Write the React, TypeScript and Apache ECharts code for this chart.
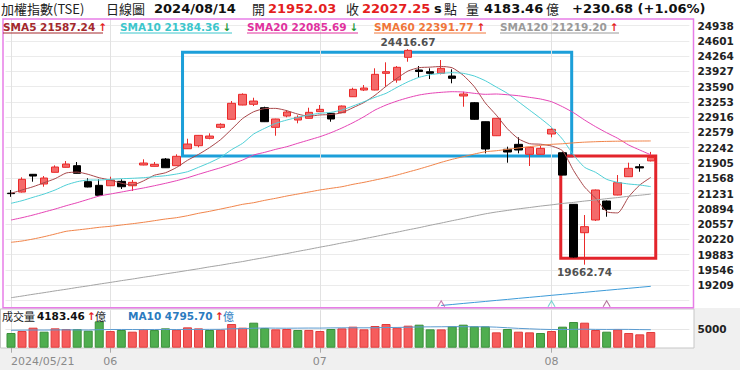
import React, { useEffect, useRef } from 'react';
import * as echarts from 'echarts';

const dates = [
  '2024/05/21', '2024/05/22', '2024/05/23', '2024/05/24', '2024/05/27', '2024/05/28', '2024/05/29', '2024/05/30', '2024/05/31',
  '2024/06/03', '2024/06/04', '2024/06/05', '2024/06/06', '2024/06/07', '2024/06/11', '2024/06/12', '2024/06/13', '2024/06/14',
  '2024/06/17', '2024/06/18', '2024/06/19', '2024/06/20', '2024/06/21', '2024/06/24', '2024/06/25', '2024/06/26', '2024/06/27', '2024/06/28',
  '2024/07/01', '2024/07/02', '2024/07/03', '2024/07/04', '2024/07/05', '2024/07/08', '2024/07/09', '2024/07/10', '2024/07/11', '2024/07/12',
  '2024/07/15', '2024/07/16', '2024/07/17', '2024/07/18', '2024/07/19', '2024/07/22', '2024/07/23', '2024/07/26', '2024/07/29', '2024/07/30', '2024/07/31',
  '2024/08/01', '2024/08/02', '2024/08/05', '2024/08/06', '2024/08/07', '2024/08/08', '2024/08/09', '2024/08/12', '2024/08/13', '2024/08/14',
];
const padCats = ['_p1', '_p2', '_p3'];

// [open, close, low, high]
const ohlc = [
  [21240, 21230, 21160, 21310], [21265, 21546, 21254, 21590], [21656, 21618, 21493, 21663], [21442, 21574, 21382, 21618],
  [21700, 21817, 21696, 21854], [21810, 21883, 21806, 21949], [21846, 21678, 21674, 21927], [21493, 21376, 21369, 21568],
  [21413, 21193, 21188, 21546], [21404, 21530, 21398, 21603], [21501, 21382, 21332, 21546], [21404, 21479, 21288, 21530],
  [21861, 21905, 21854, 21987], [21832, 21876, 21828, 21927], [21993, 21801, 21795, 22015], [21846, 22053, 21839, 22097],
  [22220, 22324, 22214, 22441], [22287, 22515, 22251, 22523], [22450, 22500, 22428, 22560], [22692, 22759, 22662, 22781],
  [22869, 23222, 22864, 23272], [23184, 23420, 23178, 23442], [23200, 23272, 23162, 23345], [23125, 22816, 22809, 23147],
  [22692, 22876, 22507, 22882], [22942, 23030, 22913, 23074], [22853, 22913, 22781, 22957], [22891, 23023, 22887, 23125],
  [23037, 23089, 23030, 23184], [23001, 22876, 22816, 23008], [23015, 23162, 23008, 23173], [23367, 23530, 23361, 23566],
  [23515, 23559, 23493, 23625], [23515, 23861, 23508, 23994], [23883, 23919, 23588, 24126], [23736, 24016, 23676, 24044],
  [24236, 24390.03, 24139, 24416.67], [23956, 23923, 23786, 24044], [23919, 23883, 23758, 23994], [23883, 23994, 23861, 24177],
  [23824, 23773, 23663, 23972], [23383, 23427, 23147, 23478], [23235, 22869, 22860, 23250], [22816, 22214, 22119, 22820],
  [22507, 22891, 22500, 22898], [22207, 22148, 21912, 22265], [22317, 22192, 22119, 22472], [22097, 22251, 21839, 22258],
  [22097, 22229, 22092, 22287], [22545, 22648, 22472, 22670], [22132, 21638.14, 21634, 22154], [20994, 19830.88, 19820, 21001],
  [20368, 20501.23, 19662.74, 20758], [20648, 21310, 20626, 21320], [21067, 20884, 20721, 21078], [21199, 21471, 21193, 21640],
  [21603, 21788, 21596, 21912], [21823, 21796.59, 21713, 21883], [21952.03, 22027.25, 21940, 22150],
];

const sma5 = [
  21237, 21310, 21382, 21471, 21560, 21685, 21705, 21655, 21580, 21530, 21460, 21420, 21510, 21636, 21690, 21805, 21965, 22095, 22245, 22420,
  22650, 22887, 23036, 23105, 23110, 23060, 22984, 22937, 22965, 22975, 23014, 23125, 23240, 23400, 23597, 23775, 23935, 24008, 24020, 24035,
  24005, 23840, 23589, 23230, 22960, 22660, 22440, 22332, 22320, 22280, 22175, 21740, 21375, 21130, 20832, 20805, 21160, 21420, 21587.24,
];
const sma10 = [
  21016, 21074, 21149, 21221, 21310, 21420, 21493, 21530, 21530, 21546, 21559, 21568, 21581, 21603, 21625, 21662, 21713, 21810, 21912, 22031,
  22200, 22340, 22545, 22670, 22781, 22853, 22913, 22964, 23001, 23023, 23074, 23162, 23257, 23354, 23442, 23575, 23698, 23795, 23853, 23883,
  23897, 23883, 23824, 23720, 23580, 23442, 23257, 23074, 22891, 22692, 22430, 22082, 21810, 21700, 21545, 21479, 21442, 21420, 21384.36,
];
const sma20 = [
  20648, 20699, 20758, 20824, 20890, 20963, 21030, 21104, 21177, 21221, 21265, 21310, 21354, 21404, 21457, 21515, 21581, 21656, 21729, 21801,
  21883, 21971, 22082, 22141, 22207, 22265, 22340, 22412, 22485, 22573, 22677, 22794, 22926, 23074, 23184, 23272, 23345, 23405, 23442, 23464,
  23478, 23471, 23442, 23420, 23427, 23411, 23389, 23354, 23317, 23257, 23147, 23015, 22853, 22706, 22573, 22450, 22302, 22192, 22085.69,
];
const sma60 = [
  20156, 20185, 20229, 20280, 20339, 20399, 20428, 20456, 20487, 20509, 20538, 20566, 20597, 20633, 20670, 20699, 20743, 20796, 20840, 20890,
  20941, 20994, 21030, 21082, 21127, 21177, 21221, 21265, 21310, 21347, 21382, 21435, 21479, 21530, 21581, 21640, 21706, 21773, 21845, 21920,
  21987, 22044, 22103, 22154, 22176, 22207, 22236, 22265, 22295, 22317, 22330, 22350, 22365, 22375, 22382, 22386, 22389, 22390, 22391.77,
];
const sma120 = [
  18934, 18971, 19010, 19046, 19085, 19121, 19160, 19196, 19235, 19271, 19310, 19346, 19385, 19421, 19460, 19496, 19535, 19573, 19615, 19652,
  19694, 19732, 19778, 19820, 19866, 19908, 19956, 20001, 20049, 20093, 20142, 20186, 20236, 20283, 20333, 20380, 20431, 20479, 20532, 20581,
  20633, 20682, 20735, 20784, 20825, 20859, 20894, 20923, 20955, 20982, 21013, 21037, 21066, 21090, 21119, 21143, 21172, 21194, 21219.2,
];
const sma240 = [
  null, null, null, null, null, null, null, null, null, null, null, null, null, null, null, null, null, null, null, null,
  null, null, null, null, null, null, null, null, null, null, null, null, null, null, null, null, null, null, null, 18763,
  18785, 18808, 18830, 18852, 18875, 18897, 18920, 18942, 18964, 18987, 19009, 19031, 19053, 19076, 19098, 19120, 19142, 19164, 19186,
];

const volume = [
  3918, 4451, 5339, 4273, 5161, 4984, 4962, 4540, 7027, 4438, 4717, 4273, 4984, 4705, 5161, 4806, 5428, 5150, 4717, 4806,
  6316, 5339, 6672, 5250, 4895, 4984, 4717, 4730, 4451, 4984, 5161, 5606, 4895, 5783, 6316, 5339, 5872, 6138, 4895, 4880,
  5694, 6138, 5694, 5680, 4095, 4984, 4273, 4095, 3918, 4451, 5606, 6849, 6672, 4717, 4273, 4895, 3918, 3562, 4183.46,
];
const volumeUp = [
  0, 1, 1, 0, 1, 1, 0, 0, 0, 1, 0, 1, 1, 0, 0, 1, 1, 1, 0, 1,
  1, 1, 0, 0, 1, 1, 0, 1, 1, 0, 1, 1, 1, 1, 1, 1, 1, 0, 0, 1,
  0, 0, 0, 0, 1, 0, 1, 1, 0, 1, 0, 0, 1, 1, 0, 1, 1, 1, 1,
];
const volumeMA10 = [
  4650, 4680, 4720, 4700, 4740, 4760, 4750, 4720, 4800, 4850, 4860, 4850, 4830, 4860, 4870, 4850, 4880, 4870, 4890, 4900,
  5050, 5090, 5200, 5250, 5220, 5200, 5220, 5240, 5230, 5280, 5300, 5310, 5300, 5320, 5380, 5400, 5460, 5540, 5560, 5580,
  5620, 5600, 5580, 5580, 5480, 5320, 5160, 5040, 4920, 4850, 4840, 4910, 4940, 4890, 4870, 4890, 4880, 4830, 4795.7,
];

const maNames = ['SMA5', 'SMA10', 'SMA20', 'SMA60', 'SMA120'];
const maLast = ['21587.24', '21384.36', '22085.69', '22391.77', '21219.20'];
const maTrend = [1, -1, -1, 1, 1];

const titleName = '加權指數(TSE)';
const titleType = '日線圖';
const titleDate = '2024/08/14';
const openLabel = '開';
const openValue = '21952.03';
const closeLabel = '收';
const closeValue = '22027.25';
const volLabel = '量';
const volValue = '4183.46';
const volUnit = '億';
const changeText = '+230.68 (+1.06%)';
const volTitle = '成交量';
const volMATitle = 'MA10 4795.70';

const yLabelMin = 19209;
const yLabelMax = 24938;
const yStep = 337;
const yAxisMin = 18535;
const yAxisMax = 25275;
const xTickIndex = [0, 9, 28, 49];
const xTickLabels = ['2024/05/21', '06', '07', '08'];
const highPoint = [36, 24416.67];
const lowPoint = [52, 19662.74];
const boxBlue = [[15.55, 24347], [50.83, 22059]];
const boxRed = [[49.84, 22059], [58.45, 19803]];
const plotTopValue = 25081;
const plotBottomValue = 18714;
const signalIdx = [39, 49, 54];
const signalLevel = 18800;

const FONT = '"DejaVu Sans", Verdana, sans-serif';
const CJK = '"Noto Sans CJK TC", "Noto Sans CJK SC", sans-serif';
const RED = '#e41e1e';
const GREEN = '#1e9a3a';
const maColors = ['#a8474a', '#4fcfd6', '#e545b5', '#f0844a', '#a3a3a3'];
const maTextColors = ['#a3282d', '#3cc6cc', '#e0329e', '#f0763a', '#9a9a9a'];
const signalColors = ['#c05a9a', '#55c8c8', '#a05080'];

function txt(x: number, y: number, text: string, fill: string, size: number, weight: string, family: string) {
  return {
    type: 'text', x, y, z: 20, silent: true,
    style: { text, fill, fontSize: size, fontWeight: weight, fontFamily: family, verticalAlign: 'middle', align: 'left' },
  };
}

export default function App() {
  const ref = useRef<HTMLDivElement>(null);
  useEffect(() => {
    const chart = echarts.init(ref.current!, null, { renderer: 'svg' });
    const cats = [...dates, ...padCats];

    const legendX = [3, 120, 247, 374, 500];
    const underlineW = [100, 112, 111, 112, 119];
    const legendEls: any[] = [];
    maNames.forEach((n, k) => {
      legendEls.push({
        type: 'text', x: legendX[k], y: 27, z: 20, silent: true,
        style: {
          text: `{a|${n} ${maLast[k]}}{b|${maTrend[k] > 0 ? '↑' : '↓'}}`,
          verticalAlign: 'middle',
          rich: {
            a: { fill: maTextColors[k], fontSize: 10.5, fontWeight: 'bold', fontFamily: FONT },
            b: { fill: maTrend[k] > 0 ? RED : GREEN, fontSize: 10.5, fontWeight: 'bold', fontFamily: FONT, padding: [0, 0, 0, 3] },
          },
        },
      });
      legendEls.push({
        type: 'line', z: 20, silent: true,
        shape: { x1: legendX[k], y1: 33, x2: legendX[k] + underlineW[k], y2: 33 },
        style: { stroke: maTextColors[k], lineWidth: 1 },
      });
    });

    const tickSet = (i: number) => xTickIndex.indexOf(i) >= 0;

    const option: any = {
      animation: false,
      backgroundColor: '#ffffff',
      grid: [
        { left: 5.485, top: 10.22, width: 683.9, height: 305.6 },
        { left: 5.485, top: 310.2, width: 683.9, height: 37.5 },
      ],
      xAxis: [
        { type: 'category', gridIndex: 0, data: cats, boundaryGap: true, axisLine: { show: false }, axisTick: { show: false }, axisLabel: { show: false }, splitLine: { show: false } },
        {
          type: 'category', gridIndex: 1, data: cats, boundaryGap: true,
          axisLine: { show: false },
          axisTick: { show: true, alignWithLabel: true, interval: (i: number) => tickSet(i), length: 5, lineStyle: { color: '#aaaaaa' } },
          axisLabel: {
            interval: (i: number) => tickSet(i),
            formatter: (_v: string, i: number) => { const k = xTickIndex.indexOf(i); return k >= 0 ? xTickLabels[k] : ''; },
            color: '#8a8a8a', fontSize: 11, fontFamily: FONT, margin: 8, alignMinLabel: 'left',
          },
          splitLine: { show: false },
        },
        { type: 'value', gridIndex: 0, min: -0.5, max: 61.5, show: false },
      ],
      yAxis: [
        {
          type: 'value', gridIndex: 0, position: 'right', min: yAxisMin, max: yAxisMax, interval: yStep,
          axisLine: { show: false }, axisTick: { show: false },
          axisLabel: {
            margin: 8, color: '#222222', fontWeight: 'bold', fontSize: 10.5, fontFamily: FONT,
            formatter: (v: number) => (v >= yLabelMin && v <= yLabelMax ? String(v) : ''),
          },
          splitLine: { show: true, showMinLine: false, showMaxLine: false, lineStyle: { color: '#ebebeb', width: 1 } },
        },
        {
          type: 'value', gridIndex: 1, position: 'right', min: 0, max: 10000, interval: 5000,
          axisLine: { show: false }, axisTick: { show: false },
          axisLabel: { margin: 8, color: '#222222', fontWeight: 'bold', fontSize: 10.5, fontFamily: FONT, formatter: (v: number) => (v === 5000 ? '5000' : '') },
          splitLine: { show: true, showMinLine: false, showMaxLine: false, lineStyle: { color: '#e6e6e6', width: 1 } },
        },
      ],
      series: [
        {
          type: 'line', xAxisIndex: 2, yAxisIndex: 0, data: [[0, 18600]], symbol: 'none', lineStyle: { opacity: 0 }, silent: true, z: 1,
          markArea: {
            silent: true, z: 1, label: { show: false },
            data: [
              [{ coord: boxBlue[0], itemStyle: { color: 'rgba(0,0,0,0)', borderColor: '#1c9fd9', borderWidth: 3 } }, { coord: boxBlue[1] }],
              [{ coord: boxRed[0], itemStyle: { color: 'rgba(0,0,0,0)', borderColor: '#e3242b', borderWidth: 3 } }, { coord: boxRed[1] }],
            ],
          },
          markLine: {
            silent: true, z: 1, symbol: ['none', 'none'], label: { show: false },
            lineStyle: { color: '#e2e2e2', width: 1, type: 'solid' },
            data: xTickIndex.map((i) => [{ coord: [i, plotTopValue] }, { coord: [i, plotBottomValue] }]),
          },
        },
        {
          type: 'candlestick', xAxisIndex: 0, yAxisIndex: 0, data: ohlc, barWidth: 8, z: 3, silent: true,
          itemStyle: { color: '#f46a6a', color0: '#000000', borderColor: '#ea2a2a', borderColor0: '#000000', borderWidth: 1 },
        },
        ...[sma5, sma10, sma20, sma60, sma120].map((d, k) => ({
          type: 'line', xAxisIndex: 0, yAxisIndex: 0, data: d, symbol: 'none', smooth: 0.2, silent: true, z: 4,
          lineStyle: { color: maColors[k], width: 1 },
        })),
        {
          type: 'line', xAxisIndex: 0, yAxisIndex: 0, data: sma240, symbol: 'none', silent: true, z: 4,
          lineStyle: { color: '#3d9bd8', width: 1 },
        },
        {
          type: 'scatter', xAxisIndex: 2, yAxisIndex: 0, symbolSize: 1, itemStyle: { color: 'rgba(0,0,0,0)' }, z: 6, silent: true,
          label: { show: true, color: '#222222', fontSize: 10.5, fontWeight: 'bold', fontFamily: FONT, formatter: (p: any) => p.value[1].toFixed(2) },
          data: [
            { value: highPoint, label: { position: 'top', distance: 1 } },
            { value: lowPoint, label: { position: 'bottom', distance: 1 } },
          ],
        },
        {
          type: 'scatter', xAxisIndex: 2, yAxisIndex: 0, symbol: 'path://M0,10L5,0L10,10', symbolSize: [7, 6], z: 6, silent: true,
          data: signalIdx.map((i, k) => ({ value: [i, signalLevel], itemStyle: { color: 'rgba(0,0,0,0)', borderColor: signalColors[k], borderWidth: 1 } })),
        },
        {
          type: 'bar', xAxisIndex: 1, yAxisIndex: 1, barWidth: 9, z: 2, silent: true,
          data: volume.map((v, i) => ({
            value: v,
            itemStyle: volumeUp[i] ? { color: '#f65c5c', borderColor: '#e03c3c', borderWidth: 1 } : { color: '#4fae4f', borderColor: '#3a8f3a', borderWidth: 1 },
          })),
          markLine: {
            silent: true, z: 1, symbol: ['none', 'none'], label: { show: false },
            lineStyle: { color: '#dddddd', width: 1, type: 'solid' },
            data: xTickIndex.map((i) => ({ xAxis: dates[i] })),
          },
        },
        {
          type: 'line', xAxisIndex: 1, yAxisIndex: 1, data: volumeMA10, symbol: 'none', silent: true, z: 3,
          lineStyle: { color: '#5b9bd0', width: 1 },
        },
      ],
      graphic: [
        { type: 'rect', z: -10, silent: true, shape: { x: 0, y: 308, width: 740, height: 62 }, style: { fill: '#f0f0f0' } },
        { type: 'rect', z: -9, silent: true, shape: { x: 0.5, y: 309, width: 693.5, height: 39 }, style: { fill: '#ffffff', stroke: '#c6c6c6', lineWidth: 1 } },
        { type: 'rect', z: 10, silent: true, shape: { x: 3, y: 19, width: 690.5, height: 288.7 }, style: { fill: 'none', stroke: '#e77de7', lineWidth: 1.5 } },
        txt(1, 8.5, titleName, '#222222', 13, 'normal', CJK),
        txt(106, 8.5, titleType, '#222222', 13, 'normal', CJK),
        txt(154, 8.5, titleDate, '#111111', 13, 'bold', FONT),
        txt(252, 8.5, openLabel, '#222222', 13, 'normal', CJK),
        txt(268, 8.5, openValue, RED, 13, 'bold', FONT),
        txt(346, 8.5, closeLabel, '#222222', 13, 'normal', CJK),
        txt(362, 8.5, closeValue, RED, 13, 'bold', FONT),
        txt(434, 8.5, 's', '#111111', 13, 'bold', FONT),
        txt(444, 8.5, '點', '#222222', 13, 'normal', CJK),
        txt(466, 8.5, volLabel, '#222222', 13, 'normal', CJK),
        txt(484, 8.5, volValue, '#111111', 13, 'bold', FONT),
        txt(546, 8.5, volUnit, '#222222', 13, 'normal', CJK),
        txt(572, 8.5, changeText, '#111111', 13, 'bold', FONT),
        ...legendEls,
        txt(2, 316, volTitle, '#222222', 11, 'normal', CJK),
        txt(37, 316, volValue, '#111111', 10.5, 'bold', FONT),
        txt(87, 316, '↑', RED, 10.5, 'bold', FONT),
        txt(95, 316, volUnit, '#222222', 11, 'normal', CJK),
        txt(128, 316, volMATitle, '#2b7bbf', 10.5, 'bold', FONT),
        txt(215, 316, '↑', RED, 10.5, 'bold', FONT),
        txt(223, 316, volUnit, '#2b7bbf', 11, 'normal', CJK),
      ],
    };
    chart.setOption(option);
    return () => chart.dispose();
  }, []);
  return <div ref={ref} style={{ position: 'fixed', left: 0, top: 0, width: 740, height: 370, background: '#ffffff' }} />;
}
